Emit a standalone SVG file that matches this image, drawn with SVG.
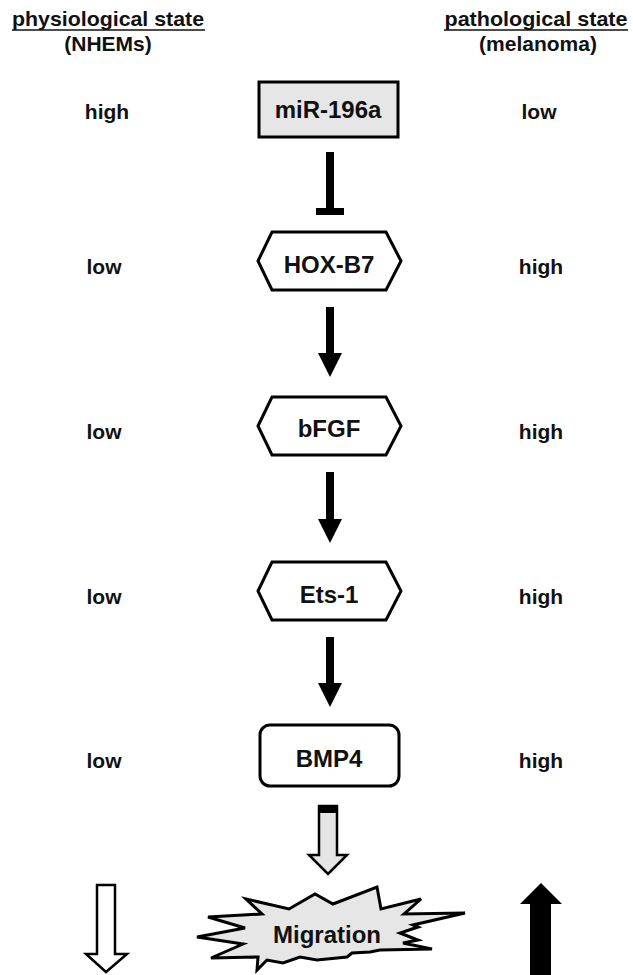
<svg xmlns="http://www.w3.org/2000/svg" width="633" height="975" viewBox="0 0 633 975">
<style>
text{font-family:"Liberation Sans",Arial,sans-serif;font-weight:bold;fill:#111;text-anchor:middle}
.hd{font-size:21px}
.lb{font-size:21px}
.nd{font-size:24px}
.node{stroke:#000;stroke-width:3;fill:#fff}
.gray{fill:#e6e6e6}
.conn{stroke:#000;stroke-width:8;fill:none}
</style>
<defs>
<marker id="ah" markerUnits="userSpaceOnUse" viewBox="0 -12 24 24" refX="0" refY="0" markerWidth="24" markerHeight="24" orient="auto">
<path d="M0,-12 L24,0 L0,12 Z" fill="#000"/>
</marker>
</defs>
<rect width="633" height="975" fill="#fff"/>

<g id="headers">
<text class="hd" x="108" y="26" textLength="192" lengthAdjust="spacingAndGlyphs">physiological state</text>
<line x1="12" y1="30" x2="205" y2="30" stroke="#111" stroke-width="1.5"/>
<text class="hd" x="108" y="51">(NHEMs)</text>
<text class="hd" x="536" y="26" textLength="183" lengthAdjust="spacingAndGlyphs">pathological state</text>
<line x1="444" y1="30" x2="628" y2="30" stroke="#111" stroke-width="1.5"/>
<text class="hd" x="538" y="51">(melanoma)</text>
</g>

<g id="levels">
<text class="lb" x="107" y="119">high</text>
<text class="lb" x="539" y="119">low</text>
<text class="lb" x="104" y="274">low</text>
<text class="lb" x="541" y="274">high</text>
<text class="lb" x="104" y="439">low</text>
<text class="lb" x="541" y="439">high</text>
<text class="lb" x="104" y="604">low</text>
<text class="lb" x="541" y="604">high</text>
<text class="lb" x="104" y="768">low</text>
<text class="lb" x="541" y="768">high</text>
</g>

<g id="miR-196a">
<rect class="node gray" x="259" y="82" width="139" height="55"/>
<text class="nd" x="328" y="118">miR-196a</text>
</g>
<g id="HOX-B7">
<polygon class="node" points="258,261 272,232 386,232 401,261 386,290 272,290"/>
<text class="nd" x="329" y="273">HOX-B7</text>
</g>
<g id="bFGF">
<polygon class="node" points="258,426 272,397 386,397 401,426 386,455 272,455"/>
<text class="nd" x="329" y="437">bFGF</text>
</g>
<g id="Ets-1">
<polygon class="node" points="258,591 272,562 386,562 401,591 386,620 272,620"/>
<text class="nd" x="329" y="603">Ets-1</text>
</g>
<g id="BMP4">
<rect class="node" x="260" y="725" width="139" height="61" rx="10" ry="10"/>
<text class="nd" x="329" y="767">BMP4</text>
</g>
<g id="Migration">
<polygon class="node gray" stroke-linejoin="miter" points="197,937 245,928 208,917 262,914 246,899 289,909 315,894 333,904 377,887 381,909 421,899 404,914 465,913 413,925 418,927 400,933 418,940 403,943 432,949 380,950 370,952 352,953 347,957 317,960 300,957 283,963 267,960 257,970 258,957 211,958 243,944"/>
<text class="nd" x="327" y="943">Migration</text>
</g>

<g id="connectors">
<line class="conn" x1="330" y1="152" x2="330" y2="210" stroke-width="7"/>
<rect x="316" y="208" width="28" height="7" fill="#000"/>
<line class="conn" x1="330" y1="307" x2="330" y2="353" marker-end="url(#ah)"/>
<line class="conn" x1="330" y1="472" x2="330" y2="519" marker-end="url(#ah)"/>
<line class="conn" x1="330" y1="637" x2="330" y2="683" marker-end="url(#ah)"/>
<polygon points="319,806 337,806 337,855 347,855 328,874 309,855 319,855" fill="#e6e6e6" stroke="#000" stroke-width="2.5" stroke-linejoin="miter"/>
<rect x="318" y="805" width="20" height="8" fill="#000"/>
</g>

<g id="trend-arrows">
<polygon points="97,885 115,885 115,954 127,954 106,972 86,954 97,954" fill="#fff" stroke="#000" stroke-width="2.5"/>
<polygon points="541,883 562,904 551,904 551,975 530,975 530,904 520,904" fill="#000"/>
</g>
</svg>
